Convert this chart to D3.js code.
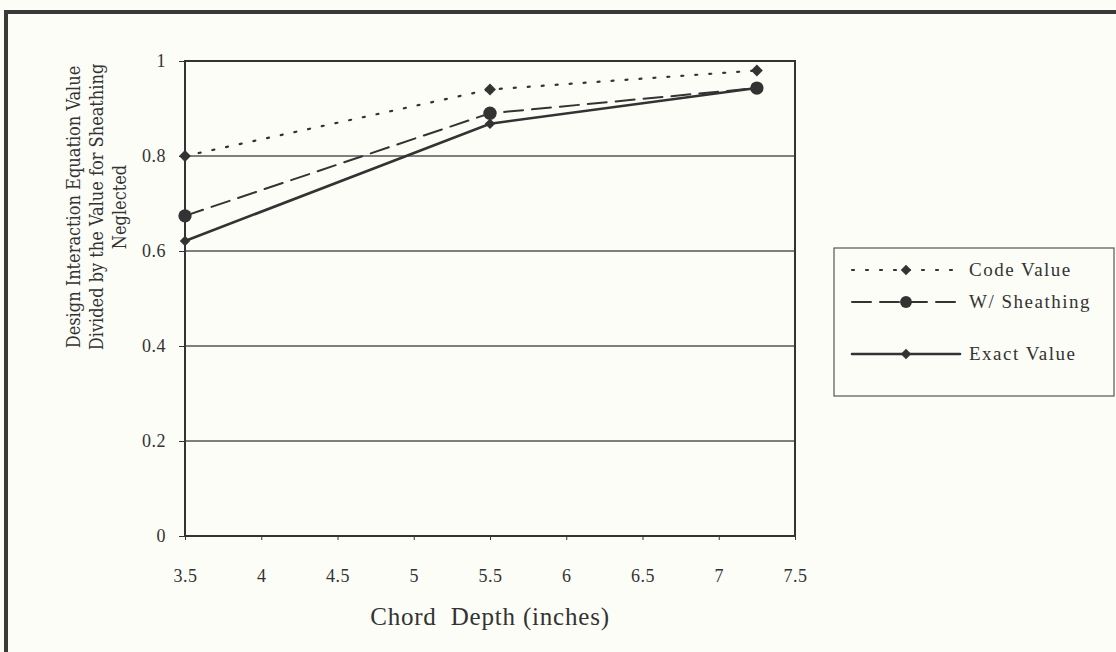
<!DOCTYPE html>
<html><head><meta charset="utf-8">
<script src="https://cdnjs.cloudflare.com/ajax/libs/d3/7.8.5/d3.min.js"></script>
<style>
html,body{margin:0;padding:0;background:#fdfdf8;}
svg{display:block;}
</style></head>
<body>
<svg id="chart" width="1116" height="652"></svg>
<script>
const xValues = [3.5, 5.5, 7.25];
const codeValue = [0.80, 0.94, 0.98];
const wSheathing = [0.674, 0.89, 0.943];
const exactValue = [0.621, 0.868, 0.943];
const seriesNames = ["Code Value", "W/ Sheathing", "Exact Value"];
const xTicks = [3.5, 4, 4.5, 5, 5.5, 6, 6.5, 7, 7.5];
const yTicks = [0, 0.2, 0.4, 0.6, 0.8, 1];

const svg = d3.select("#chart");
const ink = "#333";
const serif = "'Liberation Serif','Times New Roman',serif";

// outer frame
svg.append("rect").attr("x", 6).attr("y", 12).attr("width", 1120).attr("height", 700)
  .attr("fill", "none").attr("stroke", "#3a3a3a").attr("stroke-width", 4);

const x = d3.scaleLinear().domain([3.5, 7.5]).range([185, 795]);
const y = d3.scaleLinear().domain([0, 1]).range([536, 61]);

// grid
svg.append("g").selectAll("line").data(yTicks.filter(d => d > 0)).join("line")
  .attr("x1", x(3.5)).attr("x2", x(7.5)).attr("y1", d => y(d)).attr("y2", d => y(d))
  .attr("stroke", "#555").attr("stroke-width", 1.3);

// frame of plot
svg.append("rect").attr("x", x(3.5)).attr("y", y(1)).attr("width", x(7.5) - x(3.5)).attr("height", y(0) - y(1))
  .attr("fill", "none").attr("stroke", ink).attr("stroke-width", 2);

// axes
const xAxis = d3.axisBottom(x).tickValues(xTicks).tickSize(4).tickPadding(29).tickFormat(d3.format("~g"));
const gx = svg.append("g").attr("transform", `translate(0,${y(0)})`).call(xAxis);
const yAxis = d3.axisLeft(y).tickValues(yTicks).tickSize(6).tickPadding(13).tickFormat(d3.format("~g"));
const gy = svg.append("g").attr("transform", `translate(${x(3.5)},0)`).call(yAxis);
[gx, gy].forEach(g => {
  g.select(".domain").remove();
  g.selectAll(".tick line").attr("stroke", ink).attr("stroke-width", 1);
  g.selectAll("text").attr("font-family", serif).attr("font-size", 18).attr("letter-spacing", 0.5).attr("fill", ink);
});

// axis titles
svg.append("text").attr("x", 490).attr("y", 625).attr("text-anchor", "middle")
  .attr("font-family", serif).attr("font-size", 25).attr("letter-spacing", 0.8).attr("fill", ink).attr("xml:space", "preserve").text("Chord  Depth (inches)");
const yTitle = ["Design Interaction Equation Value", "Divided by the Value for Sheathing", "Neglected"];
const yt = svg.append("text").attr("transform", "translate(80,207) rotate(-90)")
  .attr("text-anchor", "middle").attr("font-family", "'DejaVu Serif Condensed','DejaVu Serif',serif")
  .attr("font-size", 18).attr("fill", ink);
yTitle.forEach((t, i) => yt.append("tspan").attr("x", 0).attr("dy", i === 0 ? 0 : 23).text(t));

const series = [
  {name: seriesNames[0], vals: codeValue, dash: "2,12", width: 2.2, marker: "diamond", msize: 90},
  {name: seriesNames[1], vals: wSheathing, dash: "19,9", width: 2, marker: "circle", msize: 140},
  {name: seriesNames[2], vals: exactValue, dash: null, width: 2.6, marker: "diamond", msize: 70}
];
const line = d3.line().x((d, i) => x(xValues[i])).y(d => y(d));
series.forEach(s => {
  svg.append("path").attr("d", line(s.vals)).attr("fill", "none").attr("stroke", ink)
    .attr("stroke-width", s.width).attr("stroke-dasharray", s.dash).attr("stroke-linecap", "round");
  const sym = d3.symbol().type(s.marker === "circle" ? d3.symbolCircle : d3.symbolDiamond2).size(s.msize);
  svg.append("g").selectAll("path").data(s.vals).join("path")
    .attr("transform", (d, i) => `translate(${x(xValues[i])},${y(d)})`)
    .attr("d", sym()).attr("fill", ink);
});

// legend
const lg = svg.append("g");
lg.append("rect").attr("x", 834).attr("y", 248).attr("width", 280).attr("height", 148)
  .attr("fill", "none").attr("stroke", "#555").attr("stroke-width", 1.2);
const ly = [270, 302, 354];
series.forEach((s, i) => {
  lg.append("line").attr("x1", 852).attr("x2", 960).attr("y1", ly[i]).attr("y2", ly[i])
    .attr("stroke", ink).attr("stroke-width", s.width).attr("stroke-dasharray", s.dash).attr("stroke-linecap", "round");
  const sym = d3.symbol().type(s.marker === "circle" ? d3.symbolCircle : d3.symbolDiamond2).size(s.marker === "circle" ? 110 : 70);
  lg.append("path").attr("transform", `translate(906,${ly[i]})`).attr("d", sym()).attr("fill", ink);
  lg.append("text").attr("x", 969).attr("y", ly[i] + 6).attr("font-family", serif).attr("font-size", 19)
    .attr("letter-spacing", 1.5).attr("fill", ink).text(s.name);
});
</script>
</body></html>
